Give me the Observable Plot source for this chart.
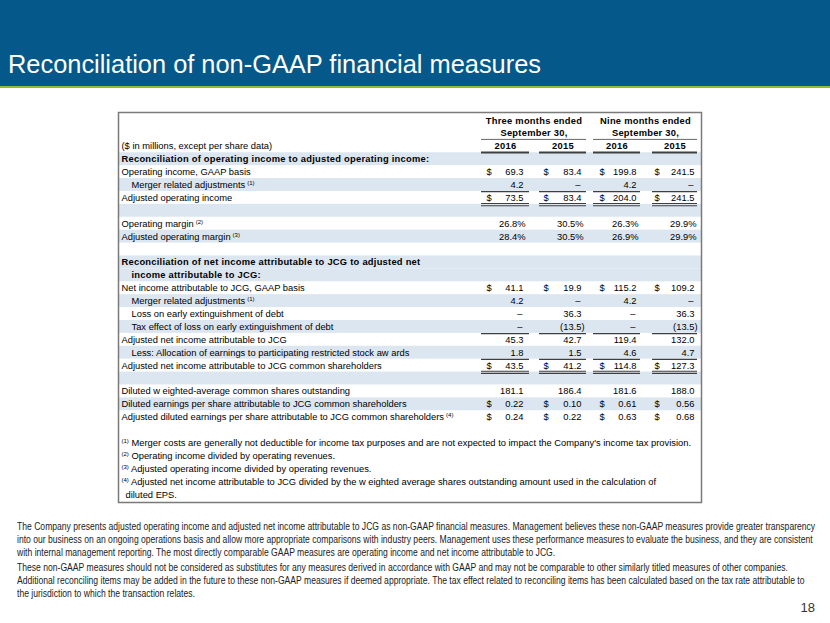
<!DOCTYPE html>
<html>
<head>
<meta charset="utf-8">
<script src="https://cdn.jsdelivr.net/npm/d3@7"></script>
<script src="https://cdn.jsdelivr.net/npm/@observablehq/plot@0.6"></script>
<style>
  html, body { margin: 0; padding: 0; background: #fff; }
  #slide { position: relative; width: 830px; height: 623px; overflow: hidden; font-family: "Liberation Sans", Arial, sans-serif; }
  #banner { position: absolute; left: 0; top: 0; width: 830px; height: 86px; background: #04588a; border-bottom: 2px solid #8cbf2e; }
  #title { position: absolute; left: 8px; top: 52px; font-size: 25.4px; line-height: 25px; color: #fff; white-space: nowrap; }
  #table { position: absolute; left: 0; top: 100px; }
  #table g[font-weight="bold"] text { letter-spacing: 0.25px; }
  .fline { position: absolute; left: 17px; font-family: "Liberation Sans Narrow", "Arial Narrow", "Liberation Sans", Arial, sans-serif; font-size: 10px; line-height: 13px; color: #222; white-space: nowrap; transform-origin: 0 0; }
  #page { position: absolute; right: 15px; top: 601px; font-size: 13px; line-height: 13px; color: #333; }
</style>
</head>
<body>
<div id="slide">
  <div id="banner"></div>
  <div id="title"></div>
  <div id="table"></div>
  <div id="footer"></div>
  <div id="page"></div>
</div>
<script>
// ---------------- data ----------------
const slideTitle = "Reconciliation of non-GAAP financial measures";
const pageNumber = "18";
const periodGroups = ["Three months ended", "Nine months ended"];
const periodEnd = "September 30,";
const years = ["2016", "2015", "2016", "2015"];

const rowLabels = [
  "($ in millions, except per share data)",
  "Reconciliation of operating income to adjusted operating income:",
  "Operating income, GAAP basis",
  "Merger related adjustments",
  "Adjusted operating income",
  "",
  "Operating margin",
  "Adjusted operating margin",
  "",
  "Reconciliation of net income attributable to JCG to adjusted net",
  "income attributable to JCG:",
  "Net income attributable to JCG, GAAP basis",
  "Merger related adjustments",
  "Loss on early extinguishment of debt",
  "Tax effect of loss on early extinguishment of debt",
  "Adjusted net income attributable to JCG",
  "Less: Allocation of earnings to participating restricted stock aw ards",
  "Adjusted net income attributable to JCG common shareholders",
  "",
  "Diluted w eighted-average common shares outstanding",
  "Diluted earnings per share attributable to JCG common shareholders",
  "Adjusted diluted earnings per share attributable to JCG common shareholders"
];
const rowNotes = [null, null, null, 1, null, null, 2, 3, null, null, null, null, 1, null, null, null, null, null, null, null, null, 4];
// value format of each row: "$" dollars, "n" number, "%" percent, "$2" per share dollars, "" none
const rowFormats = ["", "", "$", "n", "$", "", "%", "%", "", "", "", "$", "n", "n", "n", "n", "n", "$", "", "n", "$2", "$2"];

const _ = undefined; // no cell; null = dash
const threeMonths2016 = [_, _, 69.3, 4.2, 73.5, _, 26.8, 28.4, _, _, _, 41.1, 4.2, null, null, 45.3, 1.8, 43.5, _, 181.1, 0.22, 0.24];
const threeMonths2015 = [_, _, 83.4, null, 83.4, _, 30.5, 30.5, _, _, _, 19.9, null, 36.3, -13.5, 42.7, 1.5, 41.2, _, 186.4, 0.10, 0.22];
const nineMonths2016  = [_, _, 199.8, 4.2, 204.0, _, 26.3, 26.9, _, _, _, 115.2, 4.2, null, null, 119.4, 4.6, 114.8, _, 181.6, 0.61, 0.63];
const nineMonths2015  = [_, _, 241.5, null, 241.5, _, 29.9, 29.9, _, _, _, 109.2, null, 36.3, -13.5, 132.0, 4.7, 127.3, _, 188.0, 0.56, 0.68];

const footnotes = [
  "Merger costs are generally not deductible for income tax purposes and are not expected to impact the Company's income tax provision.",
  "Operating income divided by operating revenues.",
  "Adjusted operating income divided by operating revenues.",
  "Adjusted net income attributable to JCG divided by the w eighted average shares outstanding amount used in the calculation of",
  "diluted EPS."
];
const footnoteNumbers = [1, 2, 3, 4, null];

const bodyLines = [
  "The Company presents adjusted operating income and adjusted net income attributable to JCG as non-GAAP financial measures. Management believes these non-GAAP measures provide greater transparency",
  "into our business on an ongoing operations basis and allow more appropriate comparisons with industry peers. Management uses these performance measures to evaluate the business, and they are consistent",
  "with internal management reporting. The most directly comparable GAAP measures are operating income and net income attributable to JCG.",
  "These non-GAAP measures should not be considered as substitutes for any measures derived in accordance with GAAP and may not be comparable to other similarly titled measures of other companies.",
  "Additional reconciling items may be added in the future to these non-GAAP measures if deemed appropriate. The tax effect related to reconciling items has been calculated based on the tax rate attributable to",
  "the jurisdiction to which the transaction relates."
];

// ---------------- layout (positions / styles) ----------------
const labelRowStart = 2;           // table row index of first label
const footRowStart = 25;
const rowKinds = ["plain","head","plain","indent","plain","plain","plain","plain","plain","head","headIndent","plain","indent","indent","indent","plain","indent","plain","plain","plain","plain","plain"];
const shadedRows = [3, 5, 7, 9, 11, 12, 14, 16, 18, 20, 22];
const labelX = 121, indentX = 131;
const colDollarX = [486, 543, 599, 654];
const colRightX = [523, 581, 636, 694];
const colSpan = [[481, 529], [539, 586], [593, 640], [652, 697]];
const groupSpan = [[481, 586], [593, 697]];
const boxL = 118, boxR = 701;
const lineColor = "#3f3f3f";

// ---------------- derived tables ----------------
const labels = rowLabels.map((t, i) => ({row: i + labelRowStart, text: t, note: rowNotes[i], kind: rowKinds[i]}))
  .filter(d => d.text !== "");
const valueColumns = [threeMonths2016, threeMonths2015, nineMonths2016, nineMonths2015];
const f1 = d3.format(".1f"), f2 = d3.format(".2f");
const cells = [];
valueColumns.forEach((col, c) => col.forEach((v, i) => {
  if (v === undefined) return;
  const fmt = rowFormats[i];
  let text, shift = 0;
  if (v === null) { text = "–"; shift = -1; }
  else if (fmt === "%") { text = f1(v) + "%"; shift = 2; }
  else if (fmt === "$2") text = f2(v);
  else if (v < 0) { text = "(" + f1(-v) + ")"; shift = 3; }
  else text = f1(v);
  cells.push({row: i + labelRowStart, col: c, text, x: colRightX[c] + shift, dollar: v !== null && fmt.startsWith("$")});
}));
const groupHeads = periodGroups.flatMap((g, k) => [
  {row: 0, text: g, x: (groupSpan[k][0] + groupSpan[k][1]) / 2},
  {row: 1, text: periodEnd, x: (groupSpan[k][0] + groupSpan[k][1]) / 2}
]);
const yearHeads = years.map((y, c) => ({row: 2, text: y, x: (colSpan[c][0] + colSpan[c][1]) / 2}));
const feet = footnotes.map((t, i) => ({row: footRowStart + i, text: t, note: footnoteNumbers[i]}));

// underline rules
const singleAbove = [6, 17, 19];
const doubleBelow = [6, 19];
const rules = [];
colSpan.forEach(([x1, x2]) => {
  rules.push({row: 2, dy: 6.2, x1, x2, w: 2});
  singleAbove.forEach(r => rules.push({row: r, dy: -6.2, x1, x2, w: 1.2}));
  doubleBelow.forEach(r => { rules.push({row: r, dy: 5.6, x1, x2, w: 1.1}); rules.push({row: r, dy: 7.8, x1, x2, w: 1.1}); });
});
groupSpan.forEach(([x1, x2]) => rules.push({row: 1, dy: 6.0, x1, x2, w: 0.8}));

const ruleMarks = [...d3.group(rules, d => `${d.dy}|${d.w}`).values()].map(rs =>
  Plot.ruleY(rs, {y: "row", x1: "x1", x2: "x2", dy: rs[0].dy, stroke: lineColor, strokeWidth: rs[0].w}));

const rowH = 12.9, row0 = 20;
const chart = Plot.plot({
  width: 830, height: 410,
  marginLeft: boxL, marginRight: 830 - boxR, marginTop: 12, marginBottom: 8,
  x: {type: "identity", axis: null},
  y: {type: "band", domain: d3.range(30), range: [row0 - rowH / 2, row0 + rowH * 29.5], padding: 0, round: false, axis: null},
  style: {fontFamily: "'Liberation Sans', Arial, sans-serif", fontSize: "9.35px", color: "#000", background: "transparent"},
  marks: [
    Plot.barX(shadedRows, {y: d => d, x1: boxL, x2: boxR, fill: "#dce6f1"}),
    ...ruleMarks,
    Plot.text(labels.filter(d => !d.kind.startsWith("head")), {
      y: "row", x: d => d.kind === "indent" ? indentX : labelX, text: "text", textAnchor: "start", fill: "#000", ariaDescription: "row-labels"}),
    Plot.text(labels.filter(d => d.kind.startsWith("head")), {
      y: "row", x: d => d.kind === "headIndent" ? indentX : labelX, text: "text", textAnchor: "start", fontWeight: "bold", fill: "#000"}),
    Plot.text(groupHeads, {y: "row", x: "x", text: "text", fontWeight: "bold", fill: "#000"}),
    Plot.text(yearHeads, {y: "row", x: "x", text: "text", fontWeight: "bold", fill: "#000"}),
    Plot.text(cells.filter(d => d.dollar), {y: "row", x: d => colDollarX[d.col], text: () => "$", textAnchor: "start", fill: "#000"}),
    Plot.text(cells, {y: "row", x: "x", text: "text", textAnchor: "end", fill: "#000"}),
    Plot.text(feet, {y: "row", x: d => d.note ? labelX : indentX - 6, text: "text", textAnchor: "start", fill: "#000", ariaDescription: "foot-notes"}),
    Plot.frame({stroke: "#7a7a7a", strokeWidth: 1.5})
  ]
});
document.getElementById("table").appendChild(chart);

// superscript note markers
const NS = "http://www.w3.org/2000/svg";
function sup(note) {
  const t = document.createElementNS(NS, "tspan");
  t.textContent = `(${note})`;
  t.setAttribute("font-size", "6");
  return t;
}
const labelTexts = chart.querySelectorAll('g[aria-description="row-labels"] text');
labels.filter(d => !d.kind.startsWith("head")).forEach((d, i) => {
  if (d.note == null) return;
  const s = sup(d.note);
  s.setAttribute("dx", "2"); s.setAttribute("dy", "-3");
  labelTexts[i].appendChild(s);
});
const footTexts = chart.querySelectorAll('g[aria-description="foot-notes"] text');
feet.forEach((d, i) => {
  if (d.note == null) return;
  const el = footTexts[i];
  const rest = el.textContent;
  el.textContent = "";
  const s = sup(d.note); s.setAttribute("dy", "-3");
  const r = document.createElementNS(NS, "tspan");
  r.textContent = " " + rest; r.setAttribute("dy", "3");
  el.appendChild(s); el.appendChild(r);
});

// title, footer, page
document.getElementById("title").textContent = slideTitle;
document.getElementById("page").textContent = pageNumber;
const footer = document.getElementById("footer");
const lineTops = [520, 533, 546, 561, 574, 587];
const divs = bodyLines.map((t, i) => {
  const d = document.createElement("div");
  d.className = "fline"; d.style.top = lineTops[i] + "px"; d.textContent = t;
  footer.appendChild(d); return d;
});
function fitFooter() {
  divs.forEach(d => d.style.transform = "none");
  const scale = 798 / divs[0].scrollWidth;
  divs.forEach(d => d.style.transform = `scaleX(${scale})`);
}
fitFooter();
if (document.fonts && document.fonts.ready) document.fonts.ready.then(fitFooter);
</script>
</body>
</html>
